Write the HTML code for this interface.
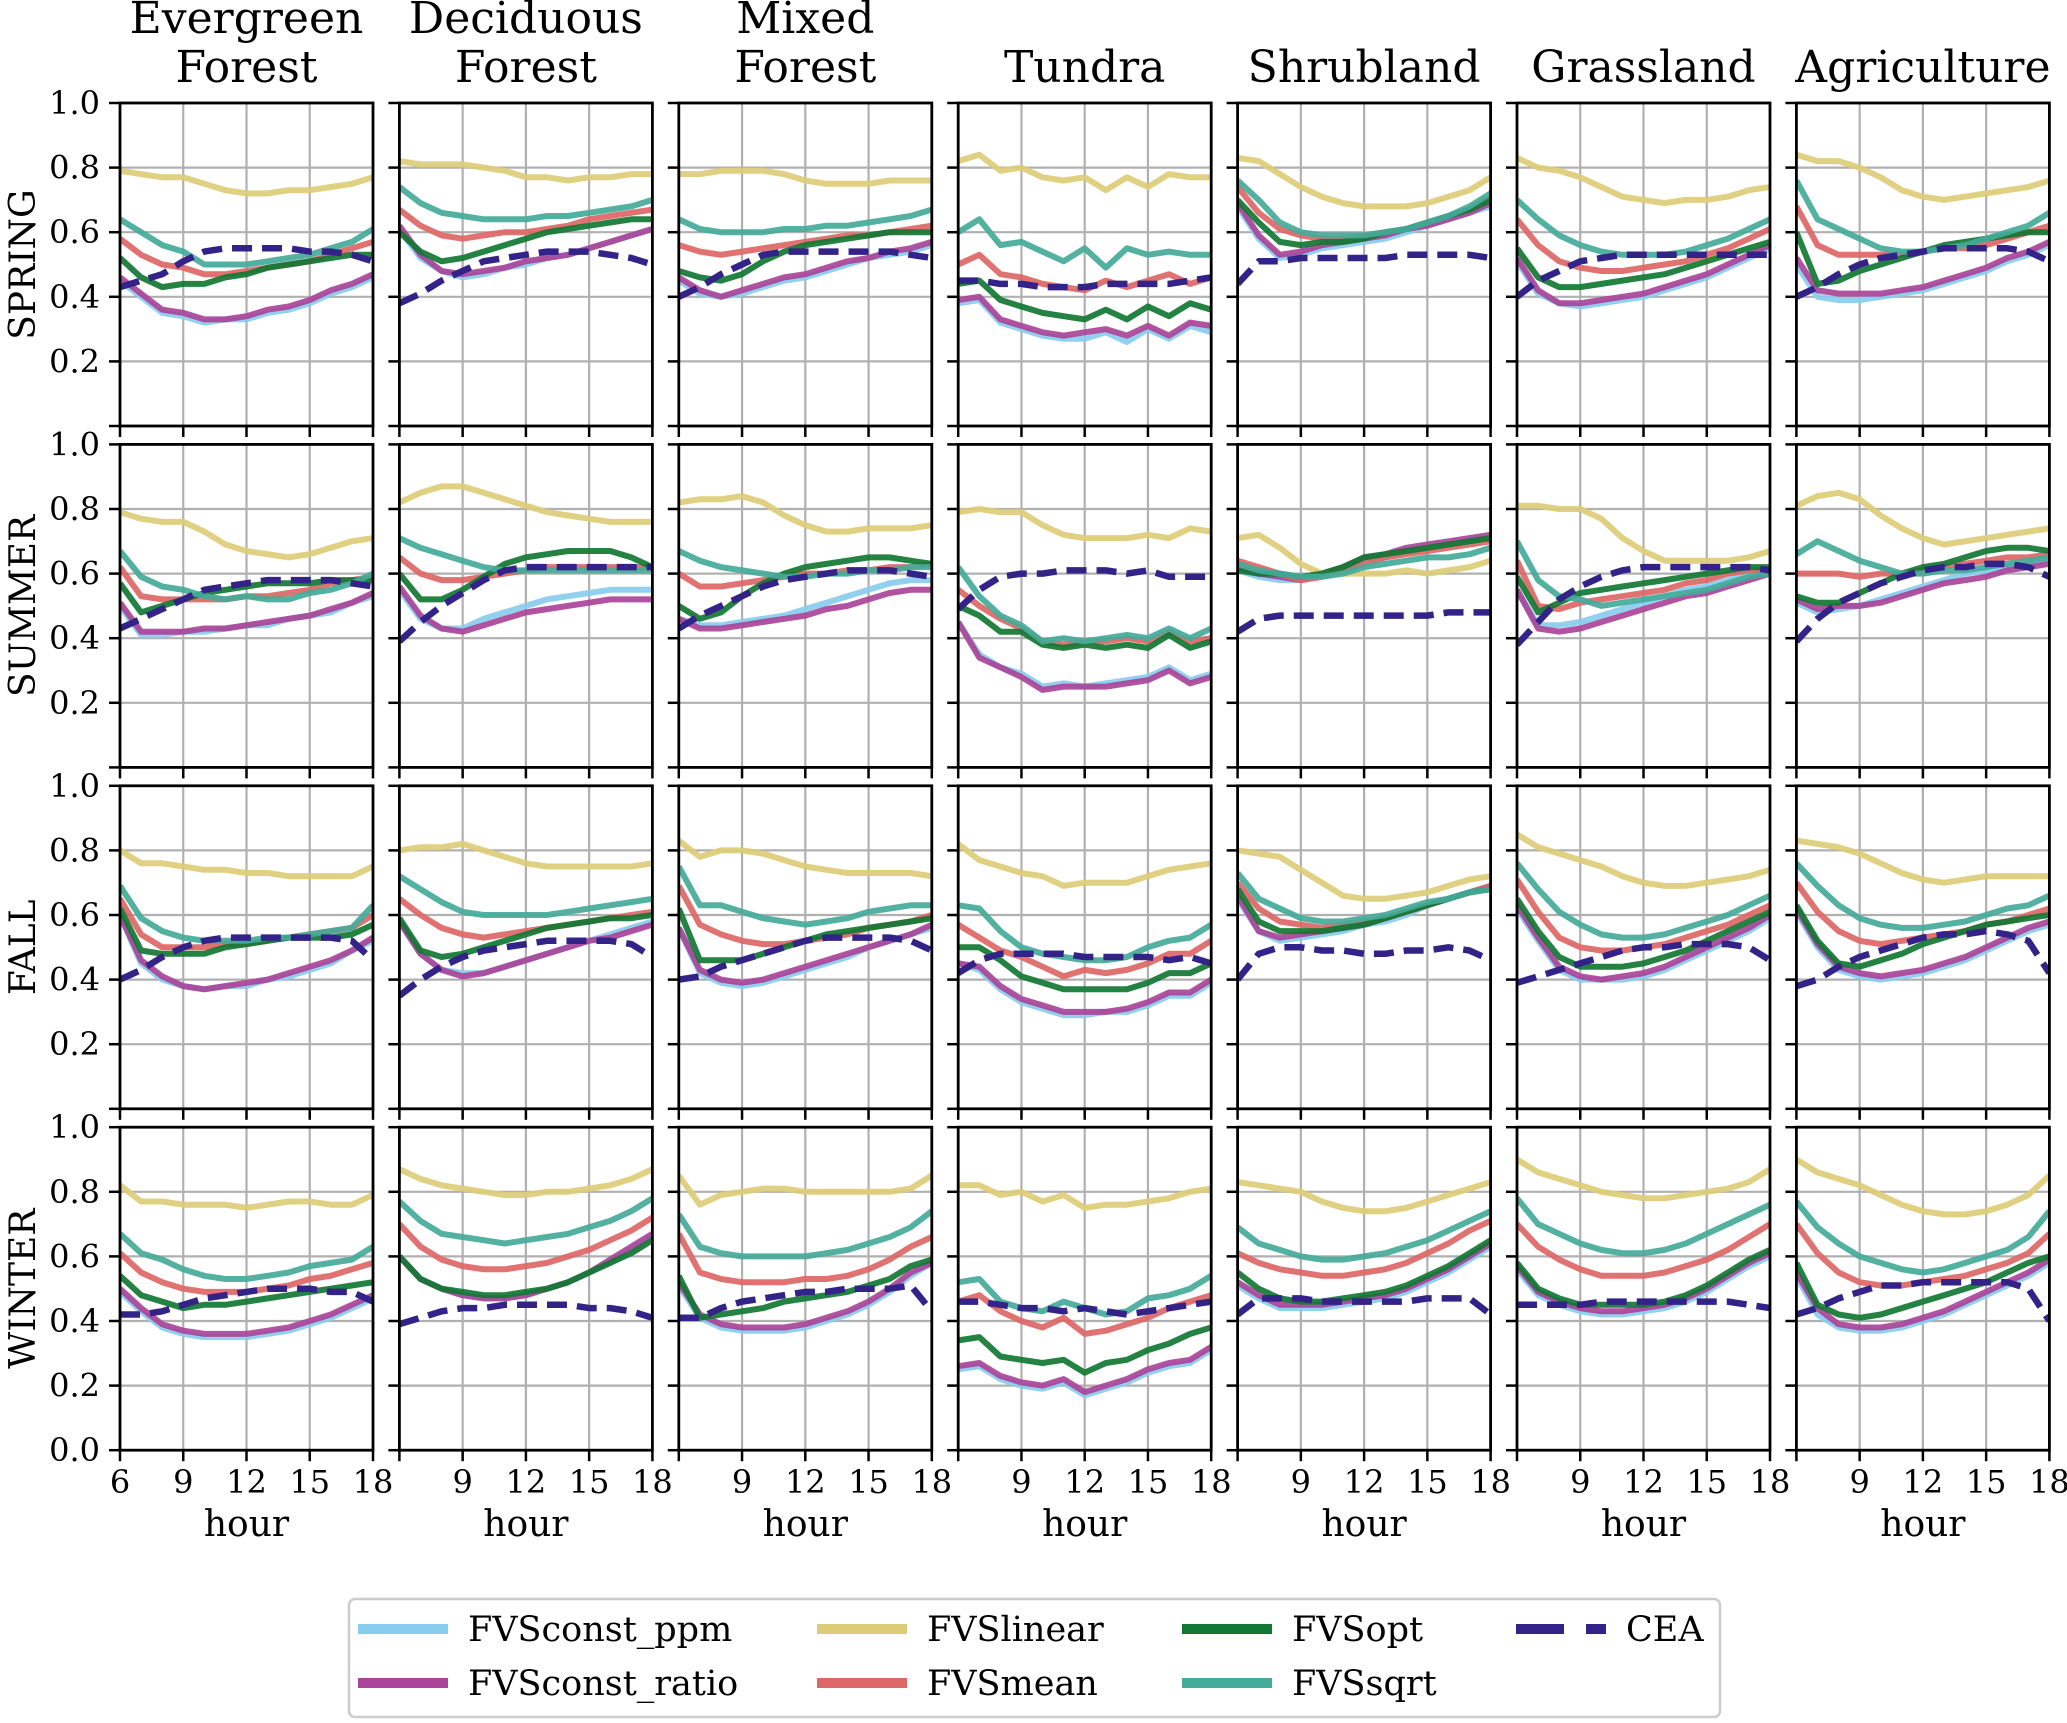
<!DOCTYPE html>
<html><head><meta charset="utf-8"><style>
html,body{margin:0;padding:0;background:#fff}
svg{display:block}
text{font-family:"DejaVu Serif","Liberation Serif",serif;fill:#000}
</style></head><body>
<svg id="chart" width="2067" height="1723" viewBox="0 0 2067 1723" xmlns="http://www.w3.org/2000/svg"></svg>
<script>
const biomes = [["Evergreen","Forest"],["Deciduous","Forest"],["Mixed","Forest"],["Tundra"],["Shrubland"],["Grassland"],["Agriculture"]];
const seasons = ["SPRING","SUMMER","FALL","WINTER"];
const hours = [6,7,8,9,10,11,12,13,14,15,16,17,18];
const xTicks = [6,9,12,15,18];
const yTicks = [0,0.2,0.4,0.6,0.8,1.0];
const yTickLabels = ["0.0","0.2","0.4","0.6","0.8","1.0"];
const seriesNames = ["FVSconst_ppm","FVSconst_ratio","FVSlinear","FVSmean","FVSopt","FVSsqrt","CEA"];
// each array: 28 panels, index = season*7 + biome
const FVSconst_ppm = [
[.45,.40,.35,.34,.32,.33,.33,.35,.36,.38,.41,.43,.46],[.61,.52,.48,.46,.47,.49,.50,.52,.53,.55,.57,.59,.61],[.45,.41,.40,.41,.43,.45,.46,.48,.50,.52,.53,.54,.56],[.38,.39,.32,.30,.28,.27,.27,.29,.26,.30,.27,.31,.29],[.68,.58,.52,.53,.55,.56,.57,.58,.60,.62,.64,.66,.68],[.51,.41,.38,.37,.38,.39,.40,.42,.44,.46,.49,.52,.55],[.50,.40,.39,.39,.40,.41,.42,.44,.46,.48,.51,.53,.56],
[.50,.41,.41,.42,.42,.43,.44,.44,.46,.47,.48,.51,.53],[.55,.46,.43,.43,.46,.48,.50,.52,.53,.54,.55,.55,.55],[.46,.44,.44,.45,.46,.47,.49,.51,.53,.55,.57,.58,.58],[.45,.35,.31,.29,.25,.26,.25,.26,.27,.28,.31,.27,.29],[.61,.59,.58,.58,.59,.61,.64,.65,.67,.68,.69,.70,.71],[.55,.44,.44,.45,.47,.49,.51,.53,.55,.56,.58,.60,.61],[.51,.48,.49,.50,.52,.54,.56,.58,.60,.61,.62,.63,.64],
[.60,.45,.40,.38,.37,.38,.38,.40,.41,.43,.45,.49,.52],[.58,.48,.43,.42,.42,.44,.46,.48,.50,.52,.54,.56,.58],[.56,.42,.39,.38,.39,.41,.43,.45,.47,.50,.52,.54,.56],[.45,.43,.37,.33,.31,.29,.29,.30,.30,.32,.35,.35,.39],[.65,.55,.52,.53,.54,.55,.57,.58,.60,.63,.65,.67,.68],[.62,.52,.43,.40,.40,.40,.41,.43,.46,.49,.52,.55,.59],[.61,.50,.43,.41,.40,.41,.42,.44,.46,.49,.52,.55,.57],
[.49,.43,.38,.36,.35,.35,.35,.36,.37,.39,.41,.44,.47],[.60,.53,.50,.48,.47,.47,.48,.50,.52,.55,.58,.62,.66],[.51,.41,.38,.37,.37,.37,.38,.40,.42,.45,.49,.54,.58],[.25,.26,.22,.20,.19,.21,.17,.19,.21,.24,.26,.27,.31],[.51,.47,.44,.44,.44,.45,.46,.47,.49,.52,.55,.59,.63],[.56,.48,.45,.43,.42,.42,.43,.44,.46,.49,.53,.57,.60],[.54,.42,.38,.37,.37,.38,.40,.42,.45,.48,.51,.54,.58]];
const FVSconst_ratio = [
[.46,.41,.36,.35,.33,.33,.34,.36,.37,.39,.42,.44,.47],[.62,.53,.48,.47,.48,.49,.51,.52,.53,.55,.57,.59,.61],[.46,.42,.40,.42,.44,.46,.47,.49,.51,.52,.54,.55,.57],[.39,.40,.33,.31,.29,.28,.29,.30,.28,.31,.28,.32,.31],[.69,.59,.53,.54,.56,.57,.58,.59,.61,.62,.64,.66,.69],[.52,.42,.38,.38,.39,.40,.41,.43,.45,.47,.50,.53,.56],[.52,.42,.41,.41,.41,.42,.43,.45,.47,.49,.52,.54,.57],
[.51,.42,.42,.42,.43,.43,.44,.45,.46,.47,.49,.51,.54],[.56,.47,.43,.42,.44,.46,.48,.49,.50,.51,.52,.52,.52],[.46,.43,.43,.44,.45,.46,.47,.49,.50,.52,.54,.55,.55],[.45,.34,.31,.28,.24,.25,.25,.25,.26,.27,.30,.26,.28],[.62,.60,.59,.58,.60,.62,.65,.66,.68,.69,.70,.71,.72],[.55,.43,.42,.43,.45,.47,.49,.51,.53,.54,.56,.58,.60],[.52,.49,.50,.50,.51,.53,.55,.57,.58,.59,.61,.62,.63],
[.60,.46,.41,.38,.37,.38,.39,.40,.42,.44,.46,.49,.53],[.58,.48,.43,.41,.42,.44,.46,.48,.50,.52,.53,.55,.57],[.56,.43,.40,.39,.40,.42,.44,.46,.48,.50,.52,.54,.57],[.45,.44,.38,.34,.32,.30,.30,.30,.31,.33,.36,.36,.40],[.66,.55,.53,.54,.55,.56,.57,.59,.61,.63,.65,.67,.69],[.63,.53,.44,.41,.40,.41,.42,.44,.47,.50,.53,.56,.60],[.62,.51,.44,.42,.41,.42,.43,.45,.47,.50,.53,.56,.58],
[.50,.44,.39,.37,.36,.36,.36,.37,.38,.40,.42,.45,.48],[.60,.53,.50,.48,.47,.47,.48,.50,.52,.55,.59,.63,.67],[.52,.42,.39,.38,.38,.38,.39,.41,.43,.46,.50,.55,.58],[.26,.27,.23,.21,.20,.22,.18,.20,.22,.25,.27,.28,.32],[.52,.48,.45,.45,.45,.46,.47,.48,.50,.53,.56,.60,.64],[.57,.49,.46,.44,.43,.43,.44,.45,.47,.50,.54,.58,.61],[.55,.44,.39,.38,.38,.39,.41,.43,.46,.49,.52,.55,.59]];
const FVSlinear = [
[.79,.78,.77,.77,.75,.73,.72,.72,.73,.73,.74,.75,.77],[.82,.81,.81,.81,.80,.79,.77,.77,.76,.77,.77,.78,.78],[.78,.78,.79,.79,.79,.78,.76,.75,.75,.75,.76,.76,.76],[.82,.84,.79,.80,.77,.76,.77,.73,.77,.74,.78,.77,.77],[.83,.82,.78,.74,.71,.69,.68,.68,.68,.69,.71,.73,.77],[.83,.80,.79,.77,.74,.71,.70,.69,.70,.70,.71,.73,.74],[.84,.82,.82,.80,.77,.73,.71,.70,.71,.72,.73,.74,.76],
[.79,.77,.76,.76,.73,.69,.67,.66,.65,.66,.68,.70,.71],[.82,.85,.87,.87,.85,.83,.81,.79,.78,.77,.76,.76,.76],[.82,.83,.83,.84,.82,.78,.75,.73,.73,.74,.74,.74,.75],[.79,.80,.79,.79,.75,.72,.71,.71,.71,.72,.71,.74,.73],[.71,.72,.68,.63,.60,.60,.60,.60,.61,.60,.61,.62,.64],[.81,.81,.80,.80,.77,.71,.67,.64,.64,.64,.64,.65,.67],[.81,.84,.85,.83,.78,.74,.71,.69,.70,.71,.72,.73,.74],
[.80,.76,.76,.75,.74,.74,.73,.73,.72,.72,.72,.72,.75],[.80,.81,.81,.82,.80,.78,.76,.75,.75,.75,.75,.75,.76],[.83,.78,.80,.80,.79,.77,.75,.74,.73,.73,.73,.73,.72],[.82,.77,.75,.73,.72,.69,.70,.70,.70,.72,.74,.75,.76],[.80,.79,.78,.74,.70,.66,.65,.65,.66,.67,.69,.71,.72],[.85,.81,.79,.77,.75,.72,.70,.69,.69,.70,.71,.72,.74],[.83,.82,.81,.79,.76,.73,.71,.70,.71,.72,.72,.72,.72],
[.82,.77,.77,.76,.76,.76,.75,.76,.77,.77,.76,.76,.79],[.87,.84,.82,.81,.80,.79,.79,.80,.80,.81,.82,.84,.87],[.85,.76,.79,.80,.81,.81,.80,.80,.80,.80,.80,.81,.85],[.82,.82,.79,.80,.77,.79,.75,.76,.76,.77,.78,.80,.81],[.83,.82,.81,.80,.77,.75,.74,.74,.75,.77,.79,.81,.83],[.90,.86,.84,.82,.80,.79,.78,.78,.79,.80,.81,.83,.87],[.90,.86,.84,.82,.79,.76,.74,.73,.73,.74,.76,.79,.85]];
const FVSmean = [
[.58,.53,.50,.49,.47,.47,.48,.49,.50,.51,.53,.55,.57],[.67,.62,.59,.58,.59,.60,.60,.61,.62,.64,.65,.66,.67],[.56,.54,.53,.54,.55,.56,.57,.58,.59,.59,.60,.61,.62],[.50,.53,.47,.46,.44,.43,.42,.45,.43,.45,.47,.44,.46],[.74,.66,.61,.59,.58,.58,.59,.60,.61,.63,.65,.67,.71],[.64,.56,.51,.49,.48,.48,.49,.50,.51,.53,.55,.58,.61],[.68,.56,.53,.53,.53,.53,.54,.55,.55,.56,.58,.60,.62],
[.62,.53,.52,.52,.52,.52,.53,.53,.54,.55,.57,.58,.59],[.65,.60,.58,.58,.59,.60,.61,.62,.62,.62,.62,.62,.62],[.60,.56,.56,.57,.58,.59,.60,.60,.61,.61,.62,.62,.63],[.55,.50,.46,.43,.39,.38,.39,.39,.40,.39,.42,.39,.40],[.64,.62,.60,.58,.59,.61,.63,.65,.66,.67,.68,.69,.70],[.64,.50,.49,.51,.52,.53,.54,.55,.57,.58,.60,.61,.61],[.60,.60,.60,.59,.60,.60,.61,.62,.63,.64,.65,.65,.66],
[.65,.54,.50,.50,.50,.51,.51,.52,.53,.54,.55,.56,.60],[.65,.60,.56,.54,.53,.54,.55,.56,.57,.58,.59,.60,.61],[.69,.57,.54,.52,.51,.51,.52,.53,.54,.56,.57,.58,.60],[.57,.53,.49,.47,.44,.41,.43,.42,.43,.45,.48,.48,.52],[.70,.62,.58,.57,.56,.57,.58,.59,.61,.63,.65,.67,.69],[.71,.61,.53,.50,.49,.49,.50,.51,.53,.55,.57,.60,.63],[.70,.61,.55,.52,.51,.52,.53,.54,.55,.57,.58,.60,.62],
[.61,.55,.52,.50,.49,.49,.49,.50,.51,.53,.54,.56,.58],[.70,.63,.59,.57,.56,.56,.57,.58,.60,.62,.65,.68,.72],[.67,.55,.53,.52,.52,.52,.53,.53,.54,.56,.59,.63,.66],[.46,.48,.43,.40,.38,.41,.36,.37,.39,.41,.44,.46,.48],[.61,.58,.56,.55,.54,.54,.55,.56,.58,.61,.64,.68,.71],[.70,.63,.59,.56,.54,.54,.54,.55,.57,.59,.62,.66,.70],[.70,.61,.55,.52,.51,.51,.52,.53,.54,.56,.58,.61,.67]];
const FVSopt = [
[.52,.46,.43,.44,.44,.46,.47,.49,.50,.51,.52,.53,.53],[.60,.54,.51,.52,.54,.56,.58,.60,.61,.62,.63,.64,.64],[.48,.46,.45,.47,.51,.54,.56,.57,.58,.59,.60,.60,.60],[.44,.45,.39,.37,.35,.34,.33,.36,.33,.37,.34,.38,.36],[.70,.63,.57,.56,.57,.57,.58,.60,.61,.63,.65,.67,.70],[.55,.46,.43,.43,.44,.45,.46,.47,.49,.51,.53,.55,.57],[.60,.44,.45,.48,.50,.52,.54,.56,.57,.58,.59,.60,.60],
[.57,.48,.50,.52,.54,.55,.56,.57,.57,.57,.58,.58,.58],[.60,.52,.52,.55,.59,.63,.65,.66,.67,.67,.67,.65,.62],[.50,.46,.48,.53,.57,.60,.62,.63,.64,.65,.65,.64,.63],[.50,.47,.42,.42,.38,.37,.38,.37,.38,.37,.41,.37,.39],[.61,.60,.60,.59,.60,.62,.65,.66,.67,.68,.69,.70,.71],[.59,.48,.51,.54,.55,.56,.57,.58,.59,.60,.61,.62,.62],[.53,.51,.51,.54,.57,.60,.62,.63,.65,.67,.68,.68,.67],
[.62,.49,.48,.48,.48,.50,.51,.52,.53,.53,.53,.54,.57],[.59,.49,.47,.48,.50,.52,.54,.56,.57,.58,.59,.59,.60],[.62,.46,.46,.46,.48,.50,.52,.54,.55,.56,.57,.58,.59],[.50,.50,.46,.41,.39,.37,.37,.37,.37,.39,.42,.42,.45],[.68,.58,.55,.55,.55,.56,.57,.59,.61,.63,.65,.67,.68],[.65,.55,.47,.44,.44,.44,.45,.47,.49,.52,.55,.58,.61],[.63,.52,.45,.44,.46,.48,.51,.53,.55,.57,.58,.59,.60],
[.54,.48,.46,.44,.45,.45,.46,.47,.48,.49,.50,.51,.52],[.60,.53,.50,.49,.48,.48,.49,.50,.52,.55,.58,.61,.65],[.54,.41,.42,.43,.44,.46,.47,.48,.49,.51,.53,.57,.59],[.34,.35,.29,.28,.27,.28,.24,.27,.28,.31,.33,.36,.38],[.55,.50,.47,.46,.46,.47,.48,.49,.51,.54,.57,.61,.65],[.58,.50,.47,.45,.45,.45,.45,.46,.48,.51,.55,.59,.62],[.58,.45,.42,.41,.42,.44,.46,.48,.50,.52,.55,.58,.60]];
const FVSsqrt = [
[.64,.60,.56,.54,.50,.50,.50,.51,.52,.53,.55,.57,.61],[.74,.69,.66,.65,.64,.64,.64,.65,.65,.66,.67,.68,.70],[.64,.61,.60,.60,.60,.61,.61,.62,.62,.63,.64,.65,.67],[.60,.64,.56,.57,.54,.51,.55,.49,.55,.53,.54,.53,.53],[.76,.70,.63,.60,.59,.59,.59,.60,.61,.63,.65,.68,.72],[.70,.64,.59,.56,.54,.53,.53,.53,.54,.56,.58,.61,.64],[.76,.64,.61,.58,.55,.54,.54,.55,.56,.58,.60,.62,.66],
[.67,.59,.56,.55,.53,.52,.53,.52,.52,.54,.55,.57,.60],[.71,.68,.66,.64,.62,.61,.61,.61,.61,.61,.61,.61,.61],[.67,.64,.62,.61,.60,.59,.59,.60,.60,.61,.61,.62,.62],[.62,.53,.47,.44,.39,.40,.39,.40,.41,.40,.43,.40,.43],[.63,.61,.60,.59,.59,.60,.62,.63,.64,.65,.65,.66,.68],[.70,.58,.53,.52,.50,.51,.52,.53,.54,.55,.57,.59,.60],[.66,.70,.67,.64,.62,.60,.60,.61,.61,.62,.63,.64,.65],
[.69,.59,.55,.53,.52,.52,.52,.53,.53,.54,.55,.56,.63],[.72,.68,.64,.61,.60,.60,.60,.60,.61,.62,.63,.64,.65],[.75,.63,.63,.61,.59,.58,.57,.58,.59,.61,.62,.63,.63],[.63,.62,.55,.50,.48,.47,.46,.46,.47,.50,.52,.53,.57],[.73,.65,.62,.59,.58,.58,.59,.60,.62,.64,.65,.67,.68],[.76,.68,.61,.57,.54,.53,.53,.54,.56,.58,.60,.63,.66],[.76,.69,.63,.59,.57,.56,.56,.57,.58,.60,.62,.63,.66],
[.67,.61,.59,.56,.54,.53,.53,.54,.55,.57,.58,.59,.63],[.77,.71,.67,.66,.65,.64,.65,.66,.67,.69,.71,.74,.78],[.73,.63,.61,.60,.60,.60,.60,.61,.62,.64,.66,.69,.74],[.52,.53,.46,.44,.43,.46,.44,.42,.43,.47,.48,.50,.54],[.69,.64,.62,.60,.59,.59,.60,.61,.63,.65,.68,.71,.74],[.78,.70,.67,.64,.62,.61,.61,.62,.64,.67,.70,.73,.76],[.77,.69,.64,.60,.58,.56,.55,.56,.58,.60,.62,.66,.74]];
const CEA = [
[.43,.45,.47,.51,.54,.55,.55,.55,.55,.54,.54,.53,.51],[.38,.41,.45,.48,.51,.52,.53,.54,.54,.54,.53,.52,.50],[.40,.43,.47,.50,.53,.54,.54,.54,.54,.54,.54,.53,.52],[.45,.45,.44,.44,.43,.43,.43,.44,.44,.44,.44,.45,.46],[.44,.51,.51,.52,.52,.52,.52,.52,.53,.53,.53,.53,.52],[.40,.45,.48,.51,.52,.53,.53,.53,.53,.53,.53,.53,.53],[.40,.43,.47,.50,.52,.53,.54,.55,.55,.55,.55,.54,.51],
[.43,.46,.49,.52,.55,.56,.57,.58,.58,.58,.58,.57,.56],[.39,.45,.50,.54,.58,.61,.62,.62,.62,.62,.62,.62,.62],[.43,.47,.50,.53,.56,.58,.59,.60,.61,.61,.61,.60,.59],[.49,.55,.59,.60,.60,.61,.61,.61,.60,.61,.59,.59,.59],[.42,.46,.47,.47,.47,.47,.47,.47,.47,.47,.48,.48,.48],[.38,.45,.52,.56,.59,.61,.62,.62,.62,.62,.62,.62,.61],[.39,.46,.51,.54,.57,.59,.61,.62,.62,.63,.63,.62,.59],
[.40,.43,.47,.50,.52,.53,.53,.53,.53,.53,.53,.52,.46],[.35,.40,.44,.47,.49,.50,.51,.52,.52,.52,.52,.51,.47],[.40,.41,.44,.46,.48,.50,.52,.53,.53,.53,.53,.52,.49],[.42,.46,.48,.48,.48,.48,.47,.47,.47,.47,.46,.47,.45],[.40,.48,.50,.50,.49,.49,.48,.48,.49,.49,.50,.49,.46],[.39,.41,.43,.45,.47,.49,.50,.50,.51,.51,.51,.50,.46],[.38,.40,.44,.47,.49,.51,.53,.54,.54,.55,.54,.52,.42],
[.42,.42,.43,.45,.47,.48,.49,.50,.50,.50,.49,.49,.46],[.39,.41,.43,.44,.44,.45,.45,.45,.45,.44,.44,.43,.41],[.41,.41,.44,.46,.47,.48,.49,.49,.50,.50,.50,.51,.43],[.46,.46,.45,.44,.44,.43,.44,.43,.42,.43,.44,.45,.46],[.42,.47,.47,.47,.46,.46,.46,.46,.46,.47,.47,.47,.42],[.45,.45,.45,.45,.46,.46,.46,.46,.46,.46,.46,.45,.44],[.42,.44,.47,.49,.51,.51,.52,.52,.52,.52,.52,.50,.40]];
const seriesData = [FVSconst_ppm,FVSconst_ratio,FVSlinear,FVSmean,FVSopt,FVSsqrt,CEA];
const colors = ["#88CCEE","#AA4499","#DDCC77","#DD6666","#117733","#44AA99","#332288"];

const NS = "http://www.w3.org/2000/svg";
const svg = document.getElementById('chart');
const PL = 120, PW = 253, PX = 279.4, PT = 103, PH = 323, PY = 341.4;
function mk(tag, attrs, parent){const e=document.createElementNS(NS,tag);for(const k in attrs)e.setAttribute(k,attrs[k]);(parent||svg).appendChild(e);return e;}
function xs(c,h){return PL + c*PX + (h-6)/12*PW;}
function ys(r,v){return PT + r*PY + PH - v*PH;}

for(let r=0;r<4;r++){
  for(let c=0;c<7;c++){
    const g = mk('g',{});
    
    
    const x0=PL+c*PX, y0=PT+r*PY;
    const clipId='clip'+r+'_'+c;
    const cp=mk('clipPath',{id:clipId},g); mk('rect',{x:x0,y:y0,width:PW,height:PH},cp);
    xTicks.forEach(t=>{const l=mk('line',{x1:xs(c,t),x2:xs(c,t),y1:y0,y2:y0+PH,stroke:'#b0b0b0','stroke-width':2.2},g);
      });
    yTicks.forEach(t=>{const l=mk('line',{x1:x0,x2:x0+PW,y1:ys(r,t),y2:ys(r,t),stroke:'#b0b0b0','stroke-width':2.2},g);
      });
    const sg=mk('g',{'clip-path':'url(#'+clipId+')'},g);
    seriesData.forEach((arr,si)=>{
      const vals=arr[r*7+c];
      const d=vals.map((v,i)=>(i?'L':'M')+xs(c,hours[i]).toFixed(1)+','+ys(r,v).toFixed(1)).join(' ');
      const p=mk('path',{d:d,fill:'none',stroke:colors[si],'stroke-width':si==6?6.5:6,'stroke-linejoin':'round','stroke-opacity':si==6?1:0.92},sg);
      if(si==6)p.setAttribute('stroke-dasharray','20,10');
      
      
    });
    const fr=mk('rect',{x:x0,y:y0,width:PW,height:PH,fill:'none',stroke:'#000','stroke-width':2.8},g);
    
    yTicks.forEach((t,i)=>{mk('line',{x1:x0-11,x2:x0,y1:ys(r,t),y2:ys(r,t),stroke:'#000','stroke-width':2.5},g);
      if(c==0 && (r==3 || i>0)){const tx=mk('text',{x:x0-20,y:ys(r,t)+11,'font-size':32,'text-anchor':'end'},g);tx.textContent=yTickLabels[i];
        }});
    xTicks.forEach(t=>{mk('line',{x1:xs(c,t),x2:xs(c,t),y1:y0+PH,y2:y0+PH+11,stroke:'#000','stroke-width':2.5},g);
      if(r==3 && (c==0 || t!=6)){const tx=mk('text',{x:xs(c,t),y:y0+PH+43,'font-size':32,'text-anchor':'middle'},g);tx.textContent=String(t);
        }});
    if(r==3){const tx=mk('text',{x:x0+PW/2,y:1536,'font-size':36,'text-anchor':'middle'},g);tx.textContent='hour';
      }
    if(r==0){const lines=biomes[c];
      lines.forEach((s,li)=>{const yy = lines.length==2 ? (li==0?33:82) : 82;
        const tx=mk('text',{x:x0+PW/2,y:yy,'font-size':44,'text-anchor':'middle'},g);tx.textContent=s;
        });}
    if(c==0){const cy=y0+PH/2;const tx=mk('text',{x:35,y:cy,'font-size':36,'text-anchor':'middle',transform:'rotate(-90 35 '+cy+')'},g);tx.textContent=seasons[r];
      }
  }
}
const lg=mk('g',{});


mk('rect',{x:349,y:1599,width:1371,height:118,rx:6,fill:'#fff',stroke:'#cccccc','stroke-width':2.5},lg);
const legCols=[358,817,1182,1516], legRows=[1629,1683];
const legOrder=[[0,0,0],[1,0,1],[2,1,0],[3,1,1],[4,2,0],[5,2,1],[6,3,0]];
legOrder.forEach(([si,col,row])=>{
  const e=mk('g',{},lg);
  
  
  const x=legCols[col], y=legRows[row];
  const l=mk('line',{x1:x,x2:x+90,y1:y,y2:y,stroke:colors[si],'stroke-width':10},e);
  if(si==6)l.setAttribute('stroke-dasharray','48,22');
  const t=mk('text',{x:x+110,y:y+12,'font-size':35},e);t.textContent=seriesNames[si];
});
</script>
</body></html>
